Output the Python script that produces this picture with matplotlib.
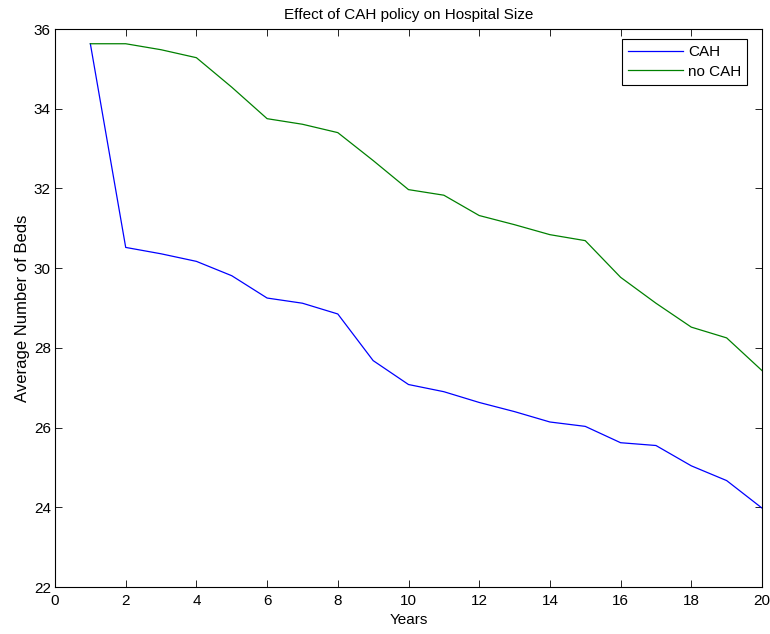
import matplotlib
matplotlib.use("Agg")
import matplotlib.pyplot as plt

plt.rcParams['font.family'] = ['Liberation Sans', 'DejaVu Sans']

years = list(range(1, 21))
cah = [35.63, 30.52, 30.36, 30.17, 29.81, 29.25, 29.12, 28.85, 27.68, 27.08,
       26.90, 26.63, 26.40, 26.14, 26.03, 25.62, 25.55, 25.04, 24.67, 23.98]
no_cah = [35.63, 35.63, 35.48, 35.28, 34.54, 33.75, 33.61, 33.40, 32.70, 31.97,
          31.83, 31.32, 31.09, 30.84, 30.69, 29.77, 29.12, 28.52, 28.25, 27.43]
xticks = list(range(0, 21, 2))
yticks = list(range(22, 37, 2))

fig = plt.figure(figsize=(7.7, 6.34), dpi=100)
ax = fig.add_axes([55/770, 1-587/634, (762-55)/770, (587-29)/634])
ax.plot(years, cah, color='#0000ff', lw=0.9, label='CAH')
ax.plot(years, no_cah, color='#008000', lw=0.9, label='no CAH')
ax.set_xlim(0, 20)
ax.set_ylim(22, 36)
ax.set_xticks(xticks)
ax.set_yticks(yticks)
ax.tick_params(direction='in', top=True, right=True, labelsize=11, length=5, width=0.6, pad=3)
ax.tick_params(axis='x', pad=5)
for s in ax.spines.values():
    s.set_linewidth(0.8)
ax.set_xlabel('Years', fontsize=11, labelpad=4)
ax.set_ylabel('Average Number of Beds', fontsize=12, labelpad=3)
ax.set_title('Effect of CAH policy on Hospital Size', fontsize=11, pad=7)
leg = ax.legend(loc='upper right', bbox_to_anchor=(0.979, 0.982), borderaxespad=0,
                fontsize=11, fancybox=False, framealpha=1,
                edgecolor='black', handlelength=3.6,
                handletextpad=0.3, labelspacing=0.35, borderpad=0.4)
leg.get_frame().set_linewidth(0.8)
fig.savefig('out.png', dpi=100)
